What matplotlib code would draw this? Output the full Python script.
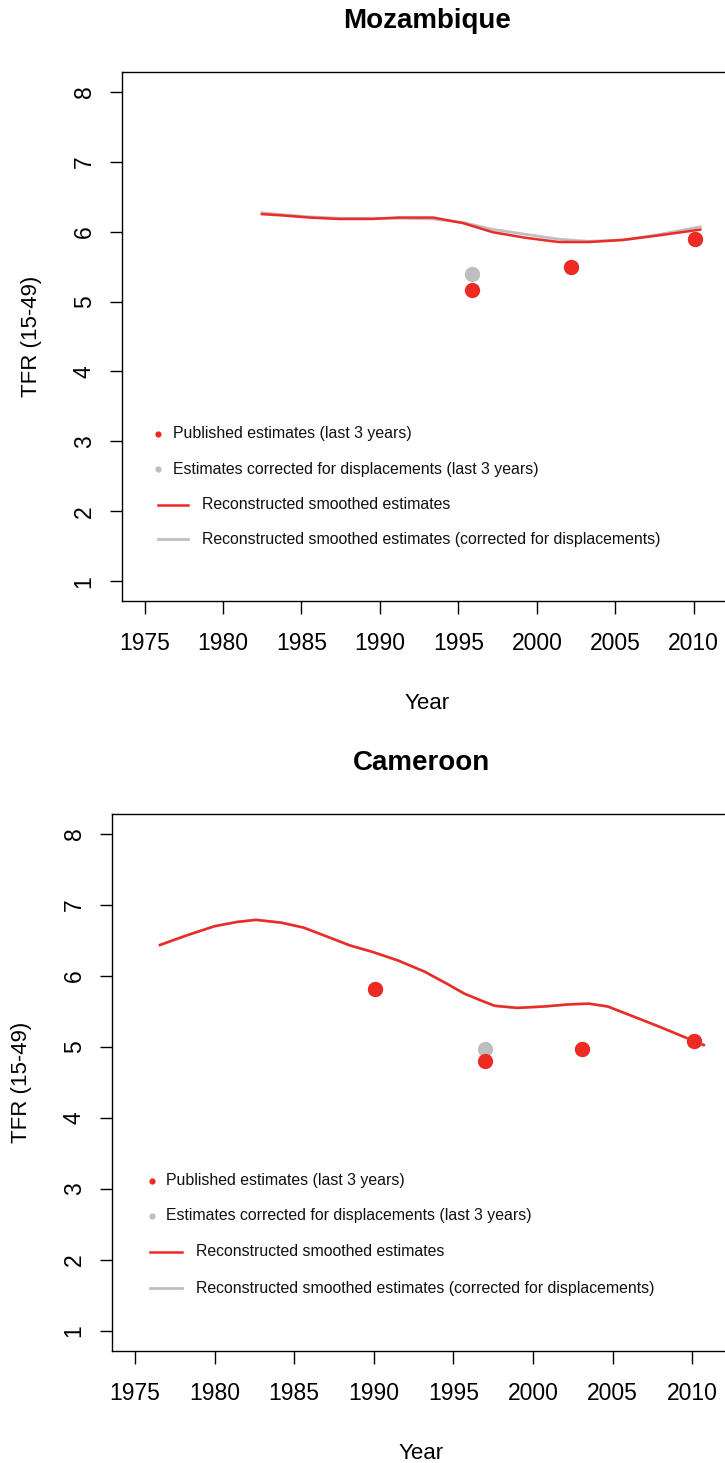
import matplotlib
import numpy as np

matplotlib.use("Agg")
import matplotlib.pyplot as plt  # noqa: E402

plt.rcParams["font.family"] = ["Liberation Sans", "DejaVu Sans"]

RED = "#EE2A24"
GREY = "#BEBEBE"

# Mozambique
moz_line_years = [1982.4, 1983.8, 1985.5, 1987.4, 1989.5, 1991.2, 1993.4, 1995.3,
                  1997.2, 1999.3, 2001.4, 2003.3, 2005.5, 2007.6, 2010.5]
moz_line_tfr = [6.25, 6.23, 6.20, 6.18, 6.18, 6.20, 6.20, 6.12,
                5.99, 5.91, 5.85, 5.85, 5.88, 5.94, 6.03]
moz_corr_line_tfr = [6.27, 6.24, 6.21, 6.19, 6.19, 6.19, 6.18, 6.13,
                     6.03, 5.96, 5.89, 5.86, 5.88, 5.95, 6.07]
moz_pub_years = [1995.9, 2002.2, 2010.1]
moz_pub_tfr = [5.16, 5.50, 5.90]
moz_corr_tfr = [5.40, 5.50, 5.90]

# Cameroon
cmr_line_years = [1976.5, 1978.3, 1980.0, 1981.4, 1982.6, 1984.2, 1985.6, 1987.0,
                  1988.5, 1989.9, 1991.5, 1993.2, 1994.6, 1995.7, 1996.9, 1997.6,
                  1999.0, 2000.7, 2002.3, 2003.5, 2004.7, 2006.3, 2008.0, 2009.4,
                  2010.8]
cmr_line_tfr = [6.43, 6.575, 6.70, 6.76, 6.79, 6.75, 6.68, 6.56,
                6.43, 6.34, 6.22, 6.06, 5.89, 5.75, 5.64, 5.58,
                5.55, 5.57, 5.60, 5.61, 5.57, 5.43, 5.28, 5.15,
                5.02]
cmr_corr_line_tfr = cmr_line_tfr
cmr_pub_years = [1990.1, 1997.0, 2003.1, 2010.1]
cmr_pub_tfr = [5.81, 4.80, 4.97, 5.09]
cmr_corr_tfr = [5.81, 4.97, 4.97, 5.09]

x_ticks = list(range(1975, 2011, 5))
y_ticks = list(range(1, 9))

legend_labels = [
    "Published estimates (last 3 years)",
    "Estimates corrected for displacements (last 3 years)",
    "Reconstructed smoothed estimates",
    "Reconstructed smoothed estimates (corrected for displacements)",
]

W, H = 725, 1463


def add_panel(fig, box, title, years, line, corr_line, pyears, pub, corr, leg):
    left, top, right, bottom = box
    ax = fig.add_axes([left / W, 1 - bottom / H, (right - left) / W, (bottom - top) / H])
    ax.plot(years, corr_line, color=GREY, lw=2.0, solid_capstyle="butt")
    ax.plot(years, line, color=RED, lw=1.8, solid_capstyle="butt")
    ax.plot(pyears, corr, "o", color=GREY, ms=11, mec="none")
    ax.plot(pyears, pub, "o", color=RED, ms=11, mec="none")

    ax.set_xlim(1973.56, 2012.44)
    ax.set_ylim(0.72, 8.28)
    ax.set_xticks(x_ticks)
    ax.set_yticks(y_ticks)
    ax.tick_params(axis="both", direction="out", length=9, width=1, labelsize=16.5)
    ax.tick_params(axis="x", pad=13)
    ax.tick_params(axis="y", pad=10)
    for lab in ax.get_yticklabels():
        lab.set_rotation(90)
        lab.set_va("center")
    for s in ax.spines.values():
        s.set_linewidth(1)

    ax.set_title(title, fontsize=20, fontweight="bold", pad=32)
    ax.set_xlabel("Year", fontsize=16, labelpad=28)
    ax.set_ylabel("TFR (15-49)", fontsize=16, labelpad=22)

    # R-style legend without box
    xm, xt_pt, xl0, xl1, xt_ln, ys = leg
    ax.plot([xm], [ys[0]], "o", color=RED, ms=4.5, mec="none", transform=ax.transAxes)
    ax.plot([xm], [ys[1]], "o", color=GREY, ms=4.5, mec="none", transform=ax.transAxes)
    ax.plot([xl0, xl1], [ys[2]] * 2, color=RED, lw=1.8, transform=ax.transAxes)
    ax.plot([xl0, xl1], [ys[3]] * 2, color=GREY, lw=2.0, transform=ax.transAxes)
    for i, lab in enumerate(legend_labels):
        xt = xt_pt if i < 2 else xt_ln
        ax.text(xt, ys[i], lab, transform=ax.transAxes, fontsize=11.4,
                va="center", ha="left", color="#111111")
    return ax


fig = plt.figure(figsize=(W / 100, H / 100), dpi=100)

add_panel(fig, (122, 72, 732, 601), "Mozambique",
          moz_line_years, moz_line_tfr, moz_corr_line_tfr,
          moz_pub_years, moz_pub_tfr, moz_corr_tfr,
          (0.059, 0.0836, 0.059, 0.108, 0.131, [0.3157, 0.2495, 0.1815, 0.1172]))

add_panel(fig, (112, 814, 731, 1351), "Cameroon",
          cmr_line_years, cmr_line_tfr, cmr_corr_line_tfr,
          cmr_pub_years, cmr_pub_tfr, cmr_corr_tfr,
          (0.0646, 0.0872, 0.0614, 0.113, 0.1357, [0.3166, 0.2514, 0.1844, 0.1173]))

fig.savefig("out.png", dpi=100)
